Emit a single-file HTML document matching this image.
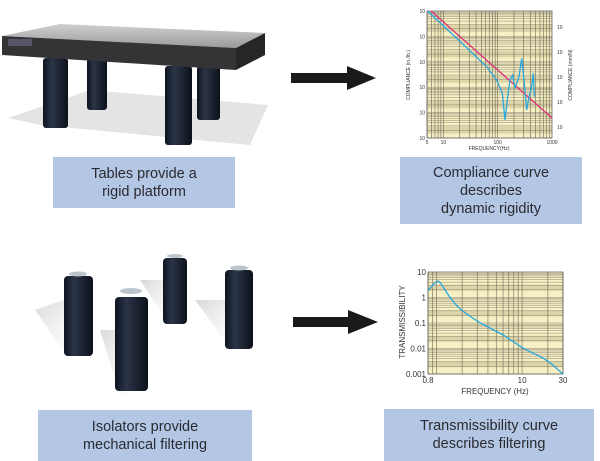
<!DOCTYPE html>
<html><head><meta charset="utf-8"><style>
html,body{margin:0;padding:0;background:#fff;}
body{width:600px;height:461px;overflow:hidden;position:relative;font-family:"Liberation Sans",sans-serif;}
.box{position:absolute;background:#b3c7e5;color:#2a2a30;text-align:center;font-size:14.5px;line-height:18px;display:flex;align-items:center;justify-content:center;}
</style></head><body>
<svg id="s" width="600" height="461" style="position:absolute;left:0;top:0" xmlns="http://www.w3.org/2000/svg">
<defs>
<linearGradient id="cyl" x1="0" x2="1" y1="0" y2="0">
<stop offset="0" stop-color="#0e1320"/><stop offset="0.35" stop-color="#2b3548"/><stop offset="1" stop-color="#0c1019"/></linearGradient>
<linearGradient id="top" x1="0" x2="0" y1="0" y2="1"><stop offset="0" stop-color="#d0d0d0"/><stop offset="1" stop-color="#9a9a9a"/></linearGradient>
<linearGradient id="sh" x1="0" x2="1" y1="0" y2="1"><stop offset="0" stop-color="#d8d8d8"/><stop offset="1" stop-color="#fff" stop-opacity="0"/></linearGradient>
</defs>
<polygon points="8,118 90,90 268,105 250,145 40,125" fill="#e4e4e4"/>
<rect x="43" y="58" width="25" height="70" rx="3" fill="url(#cyl)"/>
<rect x="87" y="58" width="20" height="52" rx="3" fill="url(#cyl)"/>
<rect x="197" y="66" width="23" height="54" rx="3" fill="url(#cyl)"/>
<rect x="165" y="66" width="27" height="79" rx="3" fill="url(#cyl)"/>
<polygon points="2,36 60,24 265,33 236,48" fill="url(#top)"/>
<polygon points="2,36 236,48 236,70 2,55" fill="#343436"/>
<polygon points="236,48 265,33 265,55 236,70" fill="#262626"/>
<rect x="8" y="39" width="24" height="7" fill="#556"/>
<polygon points="35,310 64,300 92,355 70,360" fill="url(#sh)"/>
<polygon points="100,330 115,330 147,390 120,395" fill="url(#sh)"/>
<polygon points="140,280 163,280 186,322 170,325" fill="url(#sh)"/>
<polygon points="195,300 225,300 252,348 232,350" fill="url(#sh)"/>
<rect x="64" y="276" width="29" height="80" rx="4" fill="url(#cyl)"/>
<ellipse cx="78" cy="274" rx="9" ry="2.5" fill="#bcc4cc"/>
<rect x="115" y="297" width="33" height="94" rx="4" fill="url(#cyl)"/>
<ellipse cx="131" cy="291" rx="11" ry="3" fill="#bcc4cc"/>
<rect x="163" y="258" width="24" height="66" rx="4" fill="url(#cyl)"/>
<ellipse cx="175" cy="256" rx="8" ry="2" fill="#bcc4cc"/>
<rect x="225" y="270" width="28" height="79" rx="4" fill="url(#cyl)"/>
<ellipse cx="239" cy="268" rx="9" ry="2.5" fill="#bcc4cc"/>
<polygon points="291,73 347,73 347,66 376,78 347,90 347,83 291,83" fill="#1a1a1a"/>
<polygon points="293,317 348,317 348,310 378,322 348,334 348,327 293,327" fill="#1a1a1a"/>
<g id="c1"></g><g id="c2"></g>
</svg>
<div class="box" style="left:53px;top:157px;width:182px;height:51px">Tables provide a<br>rigid platform</div>
<div class="box" style="left:400px;top:157px;width:182px;height:67px">Compliance curve<br>describes<br>dynamic rigidity</div>
<div class="box" style="left:38px;top:410px;width:214px;height:51px">Isolators provide<br>mechanical filtering</div>
<div class="box" style="left:384px;top:409px;width:210px;height:52px">Transmissibility curve<br>describes filtering</div>
<script>
var NS="http://www.w3.org/2000/svg";
function el(p,t,a,txt){var e=document.createElementNS(NS,t);for(var k in a)e.setAttribute(k,a[k]);if(txt!=null)e.textContent=txt;p.appendChild(e);return e;}
function L(x){return Math.log(x)/Math.LN10;}
var g=document.getElementById('c1');var X0=427,X1=552,Y0=11,Y1=138;
el(g,'rect',{x:X0,y:Y0,width:X1-X0,height:Y1-Y0,fill:'#f7f0c4'});
function fx(f){return X0+(L(f)-L(5))/(3-L(5))*(X1-X0);}
function cy(v){return Y0+(-3-v)/5*(Y1-Y0);}
for(var d=-3;d>-8;d--){el(g,'rect',{x:X0,y:cy(d)+(Y1-Y0)/5*0.55,width:X1-X0,height:7,fill:'#ddd4a8'});
 for(var m=1;m<10;m++){var y=cy(d-1+L(m));el(g,'line',{x1:X0,x2:X1,y1:y,y2:y,stroke:'#8a8470','stroke-width':0.5});}}
[1,10,100].forEach(function(b){for(var m=1;m<10;m++){var f=b*m;if(f<5)continue;var x=fx(f);el(g,'line',{x1:x,x2:x,y1:Y0,y2:Y1,stroke:'#6f6a58','stroke-width':0.6});}});
el(g,'rect',{x:X0,y:Y0,width:X1-X0,height:Y1-Y0,fill:'none',stroke:'#555','stroke-width':0.7});
el(g,'line',{x1:X0+4,y1:Y0,x2:X1,y2:118,stroke:'#e0307a','stroke-width':1.3});
var bp=[[173,33],[350,200],[380,240],[397,280],[405,360],[412,300],[420,240],[428,225],[435,265],[447,230],[455,175],[462,240],[470,330],[477,290],[484,265],[490,220],[493,290]];
el(g,'polyline',{points:bp.map(function(p){return (p[0]/3+370)+','+(p[1]/3);}).join(' '),fill:'none',stroke:'#29a9de','stroke-width':1.3});
var fs={'font-size':'5px',fill:'#333','font-family':'Liberation Sans'};
for(var i=0;i<6;i++)el(g,'text',Object.assign({x:X0-2,y:cy(-3-i)+2,'text-anchor':'end'},fs),'10');
[[5,'5'],[10,'10'],[100,'100'],[1000,'1000']].forEach(function(a){el(g,'text',Object.assign({x:fx(a[0]),y:Y1+6,'text-anchor':'middle'},fs),a[1]);});
el(g,'text',Object.assign({x:489,y:Y1+12,'text-anchor':'middle'},fs),'FREQUENCY(Hz)');
el(g,'text',Object.assign({transform:'translate(410,75) rotate(-90)','text-anchor':'middle'},fs),'COMPLIANCE (in./lb.)');
el(g,'text',Object.assign({transform:'translate(572,75) rotate(-90)','text-anchor':'middle'},fs),'COMPLIANCE (mm/N)');
for(i=0;i<5;i++)el(g,'text',Object.assign({x:557,y:29+i*25},fs),'10');
g=document.getElementById('c2');X0=428;X1=563;Y0=272;Y1=374;
el(g,'rect',{x:X0,y:Y0,width:X1-X0,height:Y1-Y0,fill:'#f7f0c4'});
function gx(f){return X0+(L(f)-L(0.8))/(L(30)-L(0.8))*(X1-X0);}
function gy(v){return Y0+(1-v)/4*(Y1-Y0);}
for(d=1;d>-3;d--){el(g,'rect',{x:X0,y:gy(d)+(Y1-Y0)/4*0.5,width:X1-X0,height:6,fill:'#ddd4a8'});
 for(m=1;m<10;m++){y=gy(d-1+L(m));el(g,'line',{x1:X0,x2:X1,y1:y,y2:y,stroke:'#8a8470','stroke-width':0.5});}}
[0.8,0.9,1,2,3,4,5,6,7,8,9,10,20,30].forEach(function(f){var x=gx(f);el(g,'line',{x1:x,x2:x,y1:Y0,y2:Y1,stroke:'#6f6a58','stroke-width':0.6});});
el(g,'rect',{x:X0,y:Y0,width:X1-X0,height:Y1-Y0,fill:'none',stroke:'#555','stroke-width':0.7});
var tp=[[175,90],[185,80],[195,68],[205,63],[212,70],[222,85],[235,105],[250,125],[265,142],[285,158],[305,172],[330,188],[365,207],[400,225],[430,245],[460,265],[490,280],[520,295],[545,312],[565,330],[580,343]];
el(g,'polyline',{points:tp.map(function(p){return (p[0]/3+370)+','+(p[1]/3+260);}).join(' '),fill:'none',stroke:'#29a9de','stroke-width':1.3,'stroke-linejoin':'round'});
var f2={'font-size':'8px',fill:'#333','font-family':'Liberation Sans'};
[['10',1],['1',0],['0.1',-1],['0.01',-2],['0.001',-3]].forEach(function(a){el(g,'text',Object.assign({x:X0-2,y:gy(a[1])+3,'text-anchor':'end'},f2),a[0]);});
[[0.8,'0.8'],[10,'10'],[30,'30']].forEach(function(a){el(g,'text',Object.assign({x:gx(a[0]),y:Y1+9,'text-anchor':'middle'},f2),a[1]);});
el(g,'text',Object.assign({x:495,y:Y1+20,'text-anchor':'middle'},f2),'FREQUENCY (Hz)');
el(g,'text',Object.assign({transform:'translate(405,322) rotate(-90)','text-anchor':'middle'},f2),'TRANSMISSIBILITY');
</script>
</body></html>
